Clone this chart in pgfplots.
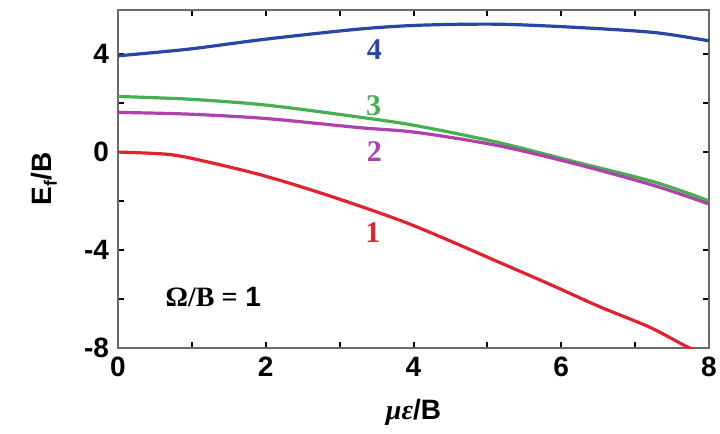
\documentclass[border=0pt]{standalone}
\usepackage{fontspec}
\setmainfont{Liberation Sans}
\newfontfamily\serif{Liberation Serif}
\usepackage{pgfplots}
\pgfplotsset{compat=1.18}
\usetikzlibrary{calc}
\definecolor{cblue}{RGB}{40,70,165}
\definecolor{cgreen}{RGB}{70,175,80}
\definecolor{cmag}{RGB}{175,65,170}
\definecolor{cred}{RGB}{225,35,45}
\definecolor{axgray}{RGB}{105,105,105}
\begin{document}
\begin{tikzpicture}
\begin{axis}[
  name=ax,
  scale only axis,
  width=295.5pt, height=169pt,
  xmin=0, xmax=8, ymin=-8, ymax=5.8,
  xtick={0,2,4,6,8}, xticklabels={0,2,4,6,8},
  minor xtick={1,3,5,7},
  ytick={-8,-4,0,4}, yticklabels={-8,-4,0,4},
  minor ytick={-6,-2,2},
  tick align=inside,
  major tick length=3pt, minor tick length=3pt,
  every tick/.style={black, line width=1pt},
  axis line style={axgray, line width=1.4pt},
  ticklabel style={font=\bfseries\fontsize{14}{16}\selectfont},
  xticklabel style={yshift=-1pt},
  yticklabel style={xshift=-1pt},
  xlabel={{\serif\bfseries\itshape με}{\bfseries/B}},
  xlabel style={at={(axis description cs:0.5,-0.19)}, anchor=center, font=\fontsize{14}{16}\selectfont},
  ylabel={\bfseries E\raisebox{-0.35ex}{\fontsize{9}{10}\selectfont f}/B},
  ylabel style={at={(axis description cs:-0.125,0.5)}, anchor=center, font=\fontsize{14}{16}\selectfont},
  clip=true,
]
\addplot[cblue, line width=1.6pt, smooth] coordinates {
(0,3.93) (0.95,4.2) (2.0,4.61) (3.26,5.02) (4.1,5.18) (5.15,5.22) (6.2,5.09) (7.26,4.88) (8,4.54)};
\addplot[cgreen, line width=1.6pt, smooth] coordinates {
(0,2.27) (0.95,2.16) (2.0,1.92) (3.26,1.43) (4.05,1.07) (5.15,0.39) (6.2,-0.41) (7.26,-1.22) (8,-1.99)};
\addplot[cmag, line width=1.6pt, smooth] coordinates {
(0,1.62) (0.95,1.55) (2.0,1.37) (3.26,1.0) (4.05,0.8) (5.15,0.26) (6.2,-0.49) (7.26,-1.37) (8,-2.12)};
\addplot[cred, line width=1.6pt, smooth] coordinates {
(0,0.0) (0.7,-0.1) (1.24,-0.42) (1.92,-0.92) (2.59,-1.52) (3.27,-2.2) (3.9,-2.88) (4.49,-3.62) (5.16,-4.5) (5.84,-5.39) (6.51,-6.3) (7.19,-7.14) (7.64,-7.85) (8,-8.4)};
\node[text=cblue, font=\serif\bfseries\fontsize{15}{16}\selectfont] at (axis cs:3.47,4.2) {4};
\node[text=cgreen, font=\serif\bfseries\fontsize{15}{16}\selectfont] at (axis cs:3.46,1.9) {3};
\node[text=cmag, font=\serif\bfseries\fontsize{15}{16}\selectfont] at (axis cs:3.47,0.02) {2};
\node[text=cred, font=\serif\bfseries\fontsize{15}{16}\selectfont] at (axis cs:3.45,-3.27) {1};
\node[anchor=west, font=\bfseries\fontsize{14}{16}\selectfont] at (axis cs:0.55,-5.9) {{\serif Ω/B =} 1};
\end{axis}
\pgfresetboundingbox
\path[use as bounding box] ($(ax.south west)+(-59pt,-42.5pt)$) rectangle ($(ax.north east)+(5.5pt,5pt)$);
\end{tikzpicture}
\end{document}
